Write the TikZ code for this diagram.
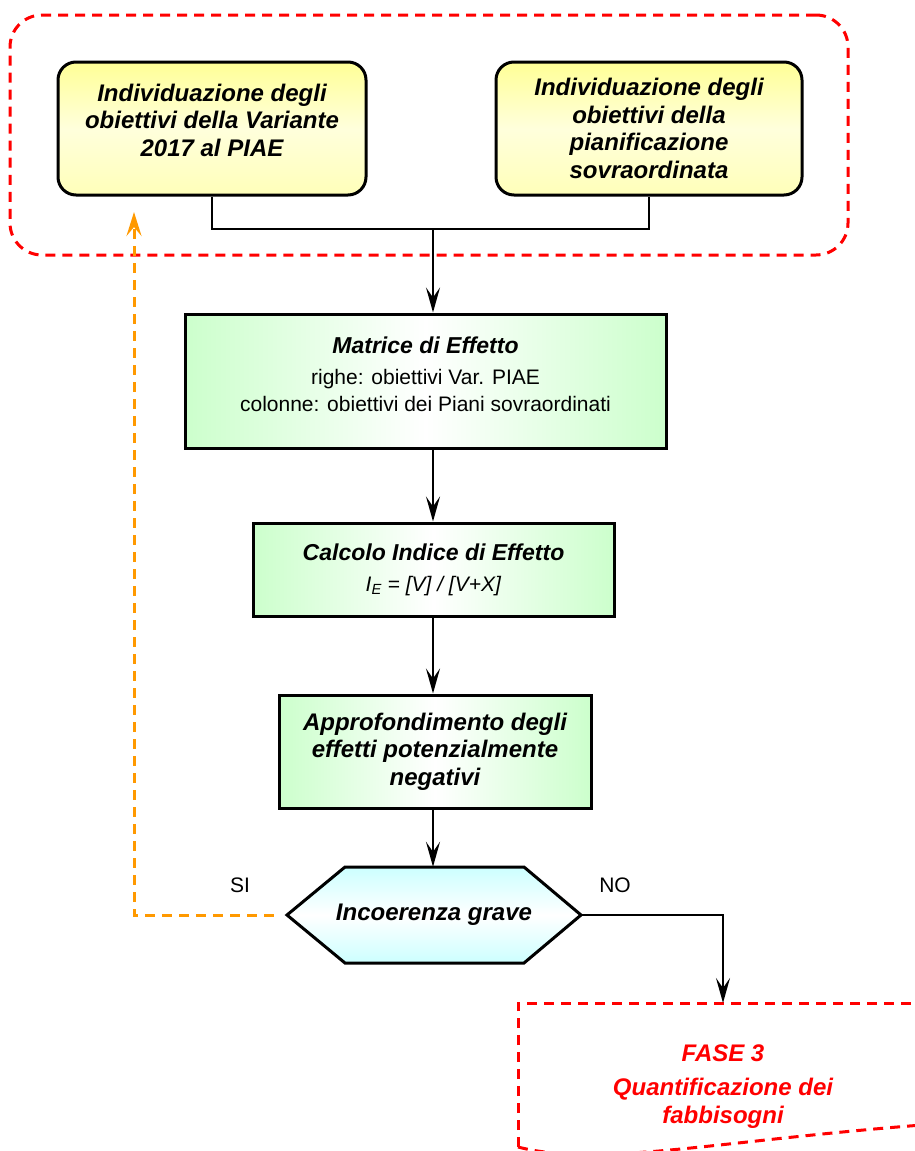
\documentclass[tikz,border=0pt]{standalone}
\usepackage{fontspec}
\setmainfont{Liberation Sans}
\usetikzlibrary{arrows.meta}
\definecolor{yl1}{RGB}{255,255,150}
\definecolor{yl2}{RGB}{255,255,185}
\definecolor{yl3}{RGB}{255,255,220}
\definecolor{gr}{RGB}{204,255,204}
\definecolor{cy}{RGB}{204,255,255}
\definecolor{orng}{RGB}{255,153,0}
\definecolor{rd}{RGB}{255,0,0}
\tikzset{
  box/.style={draw=black, line width=3pt, inner sep=0pt, align=center},
  ybox/.style={box, rounded corners=18pt, top color=yl1, bottom color=yl2, middle color=yl3},
  gbox/.style={box, left color=gr, right color=gr, middle color=white},
  hexshape/.style={draw=black, line width=3pt, top color=cy, bottom color=cy, middle color=white},
  conn/.style={draw=black, line width=2.3pt},
  arr/.style={conn, -{Stealth[length=25pt,width=14pt,inset=10pt]}},
  redd/.style={draw=rd, line width=3pt, dash pattern=on 10pt off 7pt},
  ord/.style={draw=orng, line width=3pt, dash pattern=on 10pt off 7pt, -{Stealth[length=24pt,width=15pt,inset=9pt]}},
  bt/.style={font=\fontsize{24}{27.5}\selectfont\bfseries\itshape, align=center},
  rt/.style={font=\fontsize{21}{27}\selectfont, align=center},
}
\begin{document}
\begin{tikzpicture}[x=1pt,y=-1pt]
\useasboundingbox (0,0) rectangle (915,1151);
\clip (0,0) rectangle (915,1151);
% group
\node[redd, rounded corners=32pt, minimum width=838, minimum height=240, inner sep=0pt] (grp) at (429,135) {};
% yellow boxes
\node[ybox, minimum width=308, minimum height=133] (y1) at (212,128.5) {};
\node[bt] (y1t) at (212,120) {Individuazione degli\\obiettivi della Variante\\2017 al PIAE};
\node[ybox, bt, minimum width=306, minimum height=133] (y2) at (649,128.5) {Individuazione degli\\obiettivi della\\pianificazione\\sovraordinata};
% green boxes
\node[gbox, minimum width=481, minimum height=134] (mat) at (425.5,381) {};
\node[rt] (matt) at (425.5,374) {{\fontsize{23}{27}\selectfont\bfseries\itshape Matrice di Effetto}\\[4pt]righe: obiettivi Var. PIAE\\colonne: obiettivi dei Piani sovraordinati};
\node[gbox, rt, minimum width=361, minimum height=93] (calc) at (433.5,569.5) {{\fontsize{23}{27}\selectfont\bfseries\itshape Calcolo Indice di Effetto}\\[4pt]\textit{I\textsubscript{E} = [V] / [V+X]}};
\node[gbox, bt, minimum width=312, minimum height=113] (appr) at (435,751.5) {Approfondimento degli\\effetti potenzialmente\\negativi};
% hexagon
\path[hexshape] (287,915) -- (345,867) -- (524,867) -- (581,915) -- (524,963) -- (345,963) -- cycle;
\node[bt, minimum width=294, minimum height=96, inner sep=0pt] (hex) at (434,915) {Incoerenza grave};
% labels
\node[rt] (si) at (240,885) {SI};
\node[rt] (no) at (615,885) {NO};
% FASE 3
\draw[redd] (518,1147) -- (518,1003) -- (935,1003);
\draw[redd] (518,1147) .. controls (600,1168) and (720,1140) .. (935,1124);
\node[font=\fontsize{24}{33}\selectfont\bfseries\itshape, text=rd, align=center] (f3) at (723,1087) {FASE 3\\[1pt]Quantificazione dei\\[-5pt]fabbisogni};
\coordinate (f3in) at (723,1003);
\coordinate (back) at (134,212);
% connectors
\coordinate (j) at (433,229);
\draw[conn] (y1.south) |- (j) -| (y2.south);
\draw[arr] (j) -- (j |- mat.north);
\draw[arr] (mat.south -| j) -- (calc.north -| j);
\draw[arr] (calc.south -| j) -- (appr.north -| j);
\draw[arr] (appr.south -| j) -- (hex.north -| j);
\draw[arr] (hex.east) -| (f3in);
\draw[ord, shorten <=13pt] (hex.west) -| (back);
\end{tikzpicture}
\end{document}
